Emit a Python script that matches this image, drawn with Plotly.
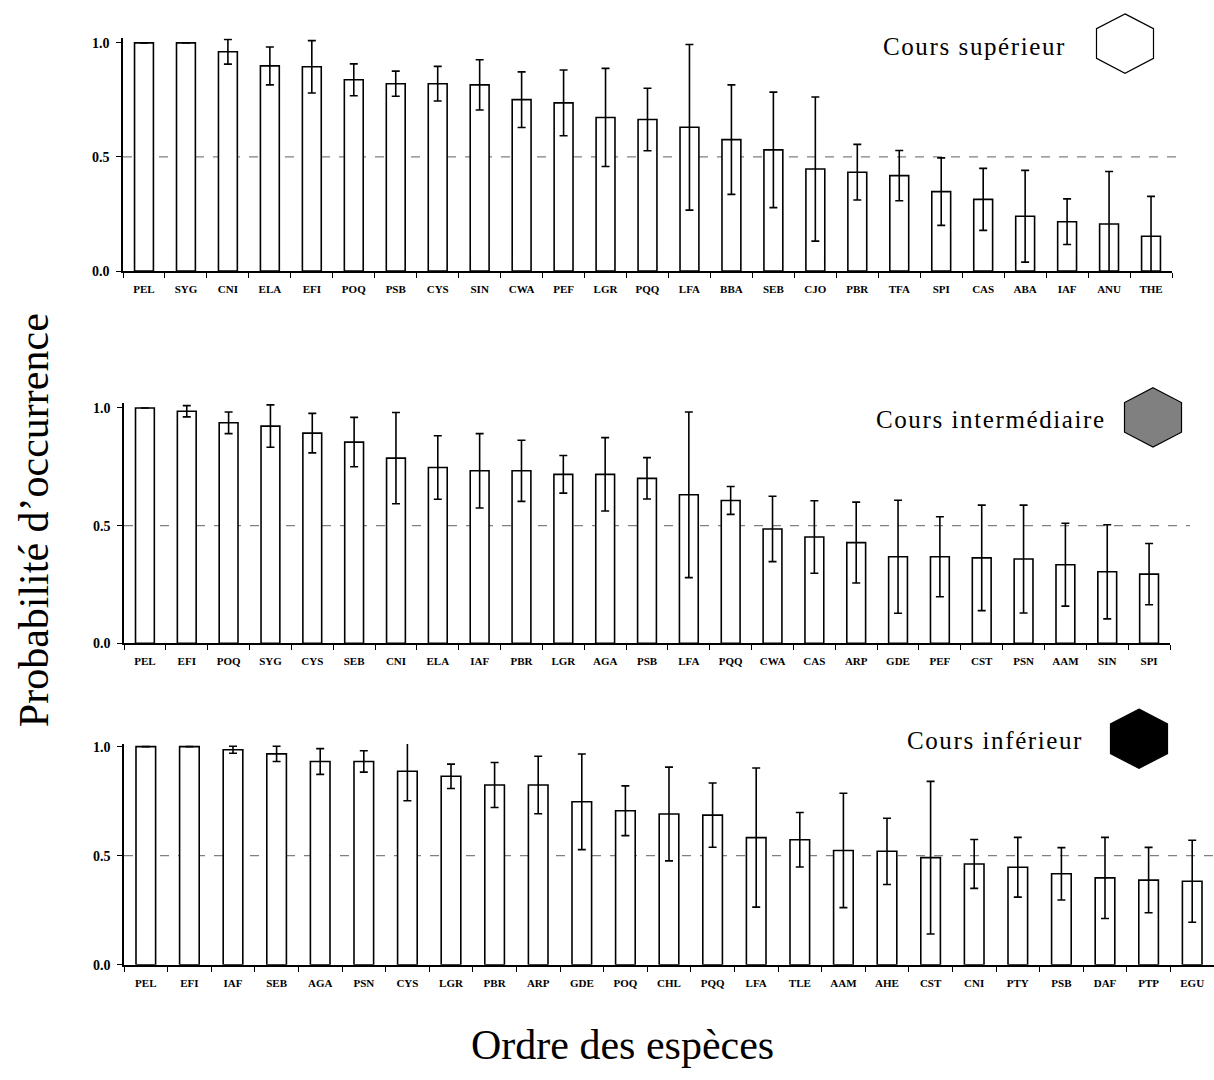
import plotly.graph_objects as go

# ---------------- data ----------------
cat_sup = ["PEL", "SYG", "CNI", "ELA", "EFI", "POQ", "PSB", "CYS", "SIN", "CWA", "PEF", "LGR", "PQQ",
           "LFA", "BBA", "SEB", "CJO", "PBR", "TFA", "SPI", "CAS", "ABA", "IAF", "ANU", "THE"]
val_sup = [1.0, 1.0, 0.961, 0.899, 0.895, 0.838, 0.821, 0.821, 0.816, 0.751, 0.737, 0.673, 0.664,
           0.630, 0.576, 0.531, 0.447, 0.433, 0.418, 0.348, 0.314, 0.240, 0.216, 0.206, 0.152]
err_sup = [0.0, 0.0, 0.054, 0.083, 0.115, 0.070, 0.055, 0.076, 0.110, 0.122, 0.144, 0.215, 0.137,
           0.363, 0.240, 0.253, 0.316, 0.122, 0.110, 0.148, 0.136, 0.201, 0.100, 0.230, 0.175]

cat_int = ["PEL", "EFI", "POQ", "SYG", "CYS", "SEB", "CNI", "ELA", "IAF", "PBR", "LGR", "AGA", "PSB",
           "LFA", "PQQ", "CWA", "CAS", "ARP", "GDE", "PEF", "CST", "PSN", "AAM", "SIN", "SPI"]
val_int = [1.0, 0.986, 0.937, 0.923, 0.893, 0.855, 0.787, 0.747, 0.733, 0.733, 0.718, 0.718, 0.701,
           0.631, 0.607, 0.486, 0.452, 0.428, 0.368, 0.368, 0.363, 0.358, 0.334, 0.304, 0.294]
err_int = [0.0, 0.024, 0.046, 0.090, 0.084, 0.105, 0.194, 0.135, 0.158, 0.130, 0.080, 0.156, 0.088,
           0.352, 0.059, 0.139, 0.154, 0.172, 0.240, 0.170, 0.224, 0.229, 0.176, 0.200, 0.130]

cat_inf = ["PEL", "EFI", "IAF", "SEB", "AGA", "PSN", "CYS", "LGR", "PBR", "ARP", "GDE", "POQ", "CHL",
           "PQQ", "LFA", "TLE", "AAM", "AHE", "CST", "CNI", "PTY", "PSB", "DAF", "PTP", "EGU"]
val_inf = [1.0, 1.0, 0.986, 0.967, 0.932, 0.932, 0.887, 0.864, 0.824, 0.824, 0.747, 0.706, 0.691,
           0.686, 0.583, 0.573, 0.524, 0.520, 0.491, 0.462, 0.447, 0.417, 0.398, 0.388, 0.383]
err_inf = [0.0, 0.0, 0.016, 0.035, 0.059, 0.049, 0.135, 0.056, 0.103, 0.132, 0.219, 0.114, 0.215,
           0.147, 0.319, 0.125, 0.262, 0.152, 0.350, 0.112, 0.137, 0.120, 0.186, 0.150, 0.188]

panel_titles = ["Cours supérieur", "Cours intermédiaire", "Cours inférieur"]
y_title = "Probabilité d\u2019occurrence"
x_title = "Ordre des espèces"
y_tickvals = [0.0, 0.5, 1.0]
y_ticktext = ["0.0", "0.5", "1.0"]
threshold = 0.5

# ---------------- layout constants (pixels) ----------------
W, H = 1214, 1080
FONT = "Liberation Serif, Times New Roman, serif"


def px(x):
    return x / W


def py(y):
    return 1 - y / H


panels = [
    # cats, vals, errs, x0, x1, y_zero_px, y_one_px, ytop, dash_end, hex center, hex fill, title right, title y
    (cat_sup, val_sup, err_sup, 123, 1172, 270.0, 39.3, 1.02, 1177, (1125, 40), "white", 1068, 43),
    (cat_int, val_int, err_int, 124, 1170, 646.5, 408.5, 1.02, 1190, (1153, 418), "#808080", 1108, 420),
    (cat_inf, val_inf, err_inf, 124, 1214, 971.5, 751.0, 1.012, 1214, (1139, 743), "black", 1085, 745),
]

fig = go.Figure()
shapes = []
annotations = []

for i, (cats, vals, errs, x0, x1, yz, yo, ytop, dash_end, hc, hfill, tx, ty) in enumerate(panels):
    n = i + 1
    xa = "x" if n == 1 else f"x{n}"
    ya = "y" if n == 1 else f"y{n}"
    unit = yz - yo
    ytop_px = yz - ytop * unit
    fig.add_trace(go.Bar(
        x=cats, y=vals, xaxis=xa, yaxis=ya,
        marker=dict(color="white", line=dict(color="black", width=1.6)),
        error_y=dict(type="data", array=errs, visible=True, color="black", thickness=1.6, width=4),
        showlegend=False, hoverinfo="x+y",
    ))
    xkey = "xaxis" if n == 1 else f"xaxis{n}"
    ykey = "yaxis" if n == 1 else f"yaxis{n}"
    fig.layout[xkey] = dict(
        domain=[px(x0), min(1.0, px(x1))], anchor=ya, type="category",
        showline=True, linecolor="black", linewidth=1.6,
        ticks="outside", tickson="boundaries", ticklen=5, tickwidth=1.3, tickcolor="black",
        tickfont=dict(family=FONT, size=11, color="black", weight="bold"), ticklabelstandoff=7,
        showgrid=False, zeroline=False, fixedrange=True,
    )
    fig.layout[ykey] = dict(
        domain=[py(yz), py(ytop_px)], anchor=xa, range=[0, ytop],
        showline=True, linecolor="black", linewidth=1.6,
        ticks="outside", ticklen=5, tickwidth=1.3, tickcolor="black",
        tickvals=y_tickvals, ticktext=y_ticktext,
        tickfont=dict(family=FONT, size=14, color="black", weight="bold"), ticklabelstandoff=4,
        showgrid=False, zeroline=False, fixedrange=True,
    )
    # threshold dashed line
    shapes.append(dict(type="line", xref="paper", yref=ya, x0=px(x0), x1=px(dash_end),
                       y0=threshold, y1=threshold,
                       line=dict(color="#808080", width=1.2, dash="dash"), layer="below"))
    # hexagon marker
    cx, cy = hc
    hw, hh = 28.5, 30.0
    pts = [(cx, cy - hh), (cx + hw, cy - hh / 2), (cx + hw, cy + hh / 2),
           (cx, cy + hh), (cx - hw, cy + hh / 2), (cx - hw, cy - hh / 2)]
    path = "M " + " L ".join(f"{px(a):.5f},{py(b):.5f}" for a, b in pts) + " Z"
    shapes.append(dict(type="path", xref="paper", yref="paper", path=path,
                       fillcolor=hfill, line=dict(color="black", width=1.2)))
    annotations.append(dict(text=f"<span style='letter-spacing:1.6px'>{panel_titles[i]}</span>",
                            xref="paper", yref="paper",
                            x=px(tx), y=py(ty), xanchor="right", yanchor="middle",
                            showarrow=False, font=dict(family=FONT, size=25, color="black")))

annotations.append(dict(text=y_title, xref="paper", yref="paper", x=px(34), y=py(522),
                        xanchor="center", yanchor="middle", textangle=-90, showarrow=False,
                        font=dict(family=FONT, size=42, color="black")))
annotations.append(dict(text=x_title, xref="paper", yref="paper", x=px(622), y=py(1053),
                        xanchor="center", yanchor="middle", showarrow=False,
                        font=dict(family=FONT, size=42, color="black")))

fig.update_layout(
    width=W, height=H, margin=dict(l=0, r=0, t=0, b=0),
    paper_bgcolor="white", plot_bgcolor="white",
    bargap=0.55, shapes=shapes, annotations=annotations,
    font=dict(family=FONT, color="black"),
)

fig.write_html("out.html")
